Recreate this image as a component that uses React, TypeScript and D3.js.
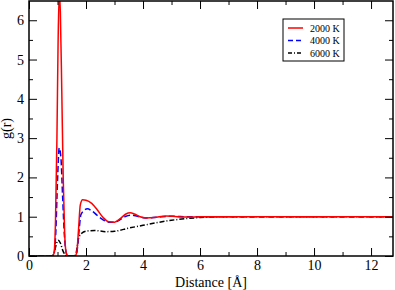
import React, { useEffect, useRef } from "react";
import * as d3 from "d3";

// g(r) curves, [distance, g]
const series2000: [number, number][] = [
  [0, 0], [0.82, 0], [0.88, 0.08], [0.93, 0.9], [0.98, 3.0], [1.02, 5.4], [1.06, 6.7],
  [1.1, 6.2], [1.15, 4.2], [1.2, 2.0], [1.25, 0.6], [1.3, 0.1], [1.36, 0], [1.62, 0],
  [1.68, 0.12], [1.74, 0.7], [1.8, 1.3], [1.88, 1.43], [2.0, 1.42], [2.2, 1.34],
  [2.4, 1.17], [2.6, 0.98], [2.8, 0.87], [3.0, 0.86], [3.2, 0.95], [3.4, 1.07],
  [3.55, 1.1], [3.7, 1.07], [3.9, 1.0], [4.1, 0.97], [4.4, 0.98], [4.8, 1.02],
  [5.2, 1.0], [5.6, 0.99], [6.0, 1.0], [12.8, 1.0],
];
const series4000: [number, number][] = [
  [0, 0], [0.82, 0], [0.88, 0.06], [0.94, 0.6], [1.0, 1.9], [1.06, 2.75], [1.12, 2.5],
  [1.18, 1.5], [1.24, 0.55], [1.3, 0.1], [1.36, 0], [1.62, 0], [1.68, 0.1],
  [1.75, 0.6], [1.82, 1.05], [1.92, 1.15], [2.05, 1.2], [2.2, 1.15], [2.4, 1.03],
  [2.6, 0.92], [2.8, 0.86], [3.0, 0.86], [3.2, 0.93], [3.4, 1.01], [3.6, 1.04],
  [3.8, 1.01], [4.1, 0.97], [4.5, 0.99], [5.0, 1.01], [5.6, 1.0], [12.8, 1.0],
];
const series6000: [number, number][] = [
  [0, 0], [0.8, 0], [0.88, 0.08], [0.95, 0.28], [1.02, 0.4], [1.1, 0.33],
  [1.18, 0.15], [1.26, 0.04], [1.34, 0], [1.6, 0], [1.66, 0.1], [1.74, 0.45],
  [1.85, 0.58], [2.0, 0.63], [2.3, 0.65], [2.7, 0.62], [3.0, 0.63], [3.5, 0.71],
  [4.0, 0.78], [4.5, 0.85], [5.0, 0.91], [5.5, 0.95], [6.0, 0.98], [7.0, 1.0],
  [12.8, 1.0],
];

const legendLabels = ["2000 K", "4000 K", "6000 K"];
const xTicks = [0, 2, 4, 6, 8, 10, 12];
const yTicks = [0, 1, 2, 3, 4, 5, 6];

export default function App() {
  const ref = useRef<SVGSVGElement>(null);

  useEffect(() => {
    const svg = d3.select(ref.current);
    svg.selectAll("*").remove();

    const margin = { top: 1, right: 2, bottom: 34, left: 29 };
    const width = 395;
    const height = 290;

    const x = d3.scaleLinear().domain([0, 12.77]).range([margin.left, width - margin.right]);
    const y = d3.scaleLinear().domain([0, 6.49]).range([height - margin.bottom, margin.top]);

    const font = "'Liberation Serif', 'Times New Roman', serif";
    const intFmt = d3.format("d");

    const plot = svg.append("g");
    plot
      .append("clipPath")
      .attr("id", "clip")
      .append("rect")
      .attr("x", margin.left)
      .attr("y", margin.top)
      .attr("width", width - margin.left - margin.right)
      .attr("height", height - margin.top - margin.bottom);

    const line = d3
      .line<[number, number]>()
      .x((d) => x(d[0]))
      .y((d) => y(d[1]))
      .curve(d3.curveMonotoneX);

    const styles = [
      { data: series2000, color: "#ff0000", dash: "none", legendDash: "none" },
      { data: series4000, color: "#0000ff", dash: "6,3", legendDash: "5,3" },
      { data: series6000, color: "#000000", dash: "5,2,1,2", legendDash: "4,2,1,2" },
    ];

    // black first, then blue, red on top
    [styles[2], styles[1], styles[0]].forEach((s) => {
      plot
        .append("path")
        .attr("clip-path", "url(#clip)")
        .attr("d", line(s.data))
        .attr("fill", "none")
        .attr("stroke", s.color)
        .attr("stroke-width", 1.5)
        .attr("stroke-dasharray", s.dash);
    });

    // axes, ticks pointing inward
    const bottom = height - margin.bottom;
    const minorX = d3.range(1, 13, 2);
    const minorY = d3.range(0.5, 6.5, 1);
    const blank = () => "";

    const groups = [
      svg.append("g").attr("transform", `translate(0,${bottom})`)
        .call(d3.axisBottom(x).tickValues(xTicks).tickSize(-8).tickPadding(4).tickFormat(intFmt as any).tickSizeOuter(0)),
      svg.append("g").attr("transform", `translate(0,${bottom})`)
        .call(d3.axisBottom(x).tickValues(minorX).tickSize(-4).tickFormat(blank).tickSizeOuter(0)),
      svg.append("g").attr("transform", `translate(0,${margin.top})`)
        .call(d3.axisTop(x).tickValues(xTicks).tickSize(-8).tickFormat(blank).tickSizeOuter(0)),
      svg.append("g").attr("transform", `translate(0,${margin.top})`)
        .call(d3.axisTop(x).tickValues(minorX).tickSize(-4).tickFormat(blank).tickSizeOuter(0)),
      svg.append("g").attr("transform", `translate(${margin.left},0)`)
        .call(d3.axisLeft(y).tickValues(yTicks).tickSize(-8).tickPadding(5).tickFormat(intFmt as any).tickSizeOuter(0)),
      svg.append("g").attr("transform", `translate(${margin.left},0)`)
        .call(d3.axisLeft(y).tickValues(minorY).tickSize(-4).tickFormat(blank).tickSizeOuter(0)),
      svg.append("g").attr("transform", `translate(${width - margin.right},0)`)
        .call(d3.axisRight(y).tickValues(yTicks).tickSize(-8).tickFormat(blank).tickSizeOuter(0)),
      svg.append("g").attr("transform", `translate(${width - margin.right},0)`)
        .call(d3.axisRight(y).tickValues(minorY).tickSize(-4).tickFormat(blank).tickSizeOuter(0)),
    ];

    groups.forEach((g) => {
      g.select(".domain").remove();
      g.selectAll("line").attr("stroke", "#000").attr("stroke-width", 1);
      g.selectAll("text").attr("font-family", font).attr("font-size", 14).attr("fill", "#000");
    });

    // frame
    svg
      .append("rect")
      .attr("x", margin.left)
      .attr("y", margin.top)
      .attr("width", width - margin.left - margin.right)
      .attr("height", height - margin.top - margin.bottom)
      .attr("fill", "none")
      .attr("stroke", "#000")
      .attr("stroke-width", 1.5);

    // axis titles
    svg
      .append("text")
      .attr("x", (margin.left + width - margin.right) / 2)
      .attr("y", 287)
      .attr("text-anchor", "middle")
      .attr("font-family", font)
      .attr("font-size", 14)
      .text("Distance [Å]");
    svg
      .append("text")
      .attr("transform", `translate(11,${(margin.top + bottom) / 2}) rotate(-90)`)
      .attr("text-anchor", "middle")
      .attr("font-family", font)
      .attr("font-size", 14)
      .text("g(r)");

    // legend
    const lg = svg.append("g").attr("transform", "translate(283,19)");
    lg.append("rect")
      .attr("width", 61)
      .attr("height", 42)
      .attr("fill", "#fff")
      .attr("stroke", "#000")
      .attr("stroke-width", 1);
    styles.forEach((s, i) => {
      const yy = 9 + i * 12.5;
      lg.append("line")
        .attr("x1", 5)
        .attr("x2", 20)
        .attr("y1", yy)
        .attr("y2", yy)
        .attr("stroke", s.color)
        .attr("stroke-width", 1.5)
        .attr("stroke-dasharray", s.legendDash);
      lg.append("text")
        .attr("x", 27)
        .attr("y", yy + 3.5)
        .attr("font-family", font)
        .attr("font-size", 10)
        .text(legendLabels[i]);
    });
  }, []);

  return (
    <div>
      <svg ref={ref} width={395} height={290} style={{ position: "absolute", left: 0, top: 0 }} />
    </div>
  );
}
